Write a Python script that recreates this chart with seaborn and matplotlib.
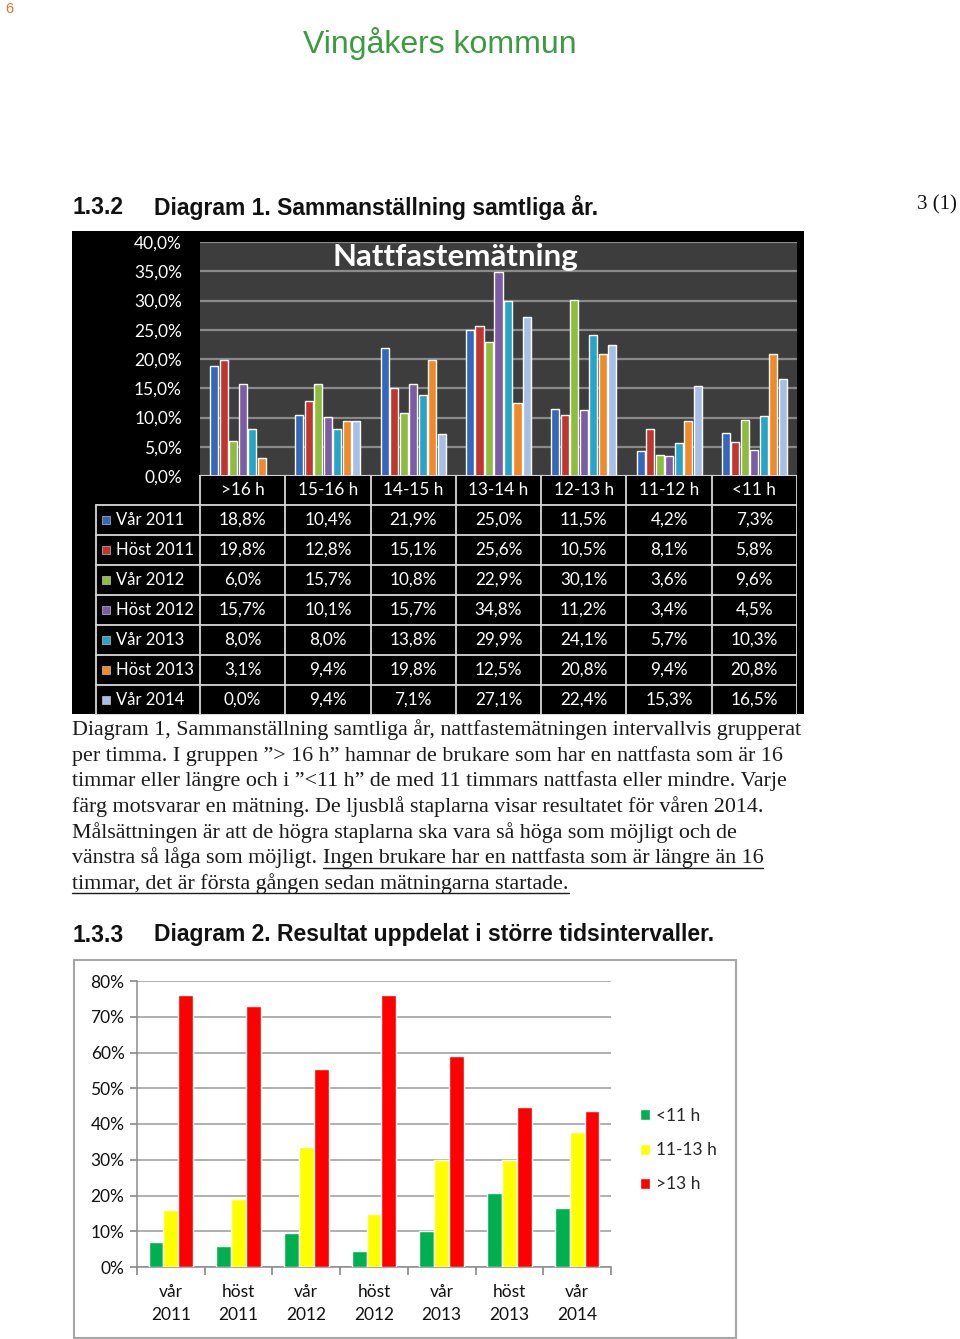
import numpy as np
import pandas as pd
import matplotlib
matplotlib.use("Agg")
import matplotlib.pyplot as plt
import seaborn as sns
from matplotlib.patches import Rectangle
from matplotlib.lines import Line2D

# ---------------- data ----------------
intervals = [">16 h", "15-16 h", "14-15 h", "13-14 h", "12-13 h", "11-12 h", "<11 h"]
series_names = ["Vår 2011", "Höst 2011", "Vår 2012", "Höst 2012", "Vår 2013", "Höst 2013", "Vår 2014"]
var_2011 = [18.8, 10.4, 21.9, 25.0, 11.5, 4.2, 7.3]
host_2011 = [19.8, 12.8, 15.1, 25.6, 10.5, 8.1, 5.8]
var_2012 = [6.0, 15.7, 10.8, 22.9, 30.1, 3.6, 9.6]
host_2012 = [15.7, 10.1, 15.7, 34.8, 11.2, 3.4, 4.5]
var_2013 = [8.0, 8.0, 13.8, 29.9, 24.1, 5.7, 10.3]
host_2013 = [3.1, 9.4, 19.8, 12.5, 20.8, 9.4, 20.8]
var_2014 = [0.0, 9.4, 7.1, 27.1, 22.4, 15.3, 16.5]
chart1_yticks = [0, 5, 10, 15, 20, 25, 30, 35, 40]
series_colors = ["#3468bd", "#c0362f", "#8dbd3f", "#7d5ca6", "#28a4c6", "#f0892a", "#a6bfe6"]

periods = ["vår\n2011", "höst\n2011", "vår\n2012", "höst\n2012", "vår\n2013", "höst\n2013", "vår\n2014"]
groups2 = ["<11 h", "11-13 h", ">13 h"]
under_11 = [7.0, 6.0, 9.6, 4.5, 10.0, 20.8, 16.5]
h11_13 = [16.0, 19.0, 33.7, 14.9, 29.8, 30.0, 37.7]
over_13 = [76.0, 73.0, 55.4, 76.0, 59.0, 44.7, 43.5]
chart2_yticks = [0, 10, 20, 30, 40, 50, 60, 70, 80]
group_colors = ["#00b050", "#ffff00", "#ff0000"]

caption_lines = [
    "Diagram 1, Sammanställning samtliga år, nattfastemätningen intervallvis grupperat",
    "per timma. I gruppen ”> 16 h” hamnar de brukare som har en nattfasta som är 16",
    "timmar eller längre och i ”<11 h” de med 11 timmars nattfasta eller mindre. Varje",
    "färg motsvarar en mätning. De ljusblå staplarna visar resultatet för våren 2014.",
    "Målsättningen är att de högra staplarna ska vara så höga som möjligt och de",
]
caption_line6_plain = "vänstra så låga som möjligt. "
caption_line6_under = "Ingen brukare har en nattfasta som är längre än 16"
caption_line7_under = "timmar, det är första gången sedan mätningarna startade."

# ---------------- figure ----------------
sns.set_theme(style="white")
plt.rcParams["font.family"] = ["Lato", "DejaVu Sans"]

W, H = 960, 1339
fig = plt.figure(figsize=(W / 100, H / 100), dpi=100)
fig.patch.set_facecolor("white")


def box(x0, y0, x1, y1):
    return [x0 / W, 1 - y1 / H, (x1 - x0) / W, (y1 - y0) / H]


def fx(x):
    return x / W


def fy(y):
    return 1 - y / H


# page header
fig.text(fx(5), fy(9), "6", color="#e0702a", fontsize=10.5, family="Liberation Sans",
         ha="left", va="center")
fig.text(fx(440), fy(43), "Vingåkers kommun", color="#3a9c3e", fontsize=23,
         family="Liberation Sans", ha="center", va="center")
fig.text(fx(72), fy(207), "1.3.2", fontsize=16.5, fontweight="bold",
         family="Liberation Sans", ha="left", va="center", color="#111111")
fig.text(fx(154), fy(207), "Diagram 1. Sammanställning samtliga år.", fontsize=16.5,
         fontweight="bold", family="Liberation Sans", ha="left", va="center", color="#111111")
fig.text(fx(957), fy(205), "3 (1)", fontsize=15, family="Liberation Serif",
         ha="right", va="center", color="#111111")

# ---------------- chart 1 ----------------
fig.add_artist(Rectangle((fx(72), fy(714)), (804 - 72) / W, (714 - 231) / H,
                         transform=fig.transFigure, facecolor="black",
                         edgecolor="none", zorder=-5))

all_series = [var_2011, host_2011, var_2012, host_2012, var_2013, host_2013, var_2014]
df1 = pd.DataFrame(
    [(iv, sn, v) for sn, vals in zip(series_names, all_series) for iv, v in zip(intervals, vals)],
    columns=["interval", "series", "value"],
)

ax1 = fig.add_axes(box(200, 242, 797, 476))
ax1.set_facecolor("#3d3d3d")
sns.barplot(data=df1, x="interval", y="value", hue="series", order=intervals,
            hue_order=series_names, palette=series_colors, saturation=1,
            width=0.78, gap=0.15, legend=False, ax=ax1, zorder=3)
ax1.set_ylim(0, 40)
ax1.set_xlim(-0.5, len(intervals) - 0.5)
ax1.set_yticks(chart1_yticks)
ax1.set_yticklabels([f"{t:.1f}".replace(".", ",") + "%" for t in chart1_yticks],
                    color="white", fontsize=12.5)
ax1.tick_params(axis="y", length=0, pad=13)
ax1.set_xticks([])
ax1.set_xlabel("")
ax1.set_ylabel("")
ax1.yaxis.grid(True, color="#8a8a8a", lw=1.6, zorder=0)
ax1.set_axisbelow(True)
for s in ax1.spines.values():
    s.set_visible(False)
ax1.text(0.427, 0.935, "Nattfastemätning", transform=ax1.transAxes, color="white",
         fontsize=22.5, fontweight="bold", ha="center", va="center")

# data table below chart 1
unit = 597 / len(intervals)
left = -0.5 - (200 - 94) / unit
axt = fig.add_axes(box(94, 475, 797, 715))
axt.set_xlim(left, len(intervals) - 0.5)
axt.set_ylim(len(series_names) - 0.5, -1.5)
axt.axis("off")
lc = "#d8d8d8"
for i in range(len(intervals) + 1):
    axt.plot([i - 0.5, i - 0.5], [-1.5, len(series_names) - 0.5], color=lc, lw=1.3)
axt.plot([left + 0.02, left + 0.02], [-0.5, len(series_names) - 0.5], color=lc, lw=1.3)
axt.plot([-0.5, len(intervals) - 0.5], [-1.5, -1.5], color=lc, lw=1.3)
for r in range(len(series_names) + 1):
    axt.plot([left + 0.02, len(intervals) - 0.5], [r - 0.5, r - 0.5], color=lc, lw=1.3)
for j, iv in enumerate(intervals):
    axt.text(j, -1, iv, color="white", fontsize=12.3, ha="center", va="center")
sq_x = -0.5 - (200 - 106) / unit
lab_x = -0.5 - (200 - 116) / unit
for r, (sn, vals, col) in enumerate(zip(series_names, all_series, series_colors)):
    axt.scatter([sq_x], [r], marker="s", s=26, color=col, edgecolors="#e0e0e0", linewidths=0.4)
    axt.text(lab_x, r, sn, color="white", fontsize=12, ha="left", va="center")
    for j, v in enumerate(vals):
        axt.text(j, r, f"{v:.1f}".replace(".", ",") + "%", color="white", fontsize=12.3,
                 ha="center", va="center")

# ---------------- caption ----------------
cap_font = dict(fontsize=15.85, family="Liberation Serif", color="#1a1a1a", ha="left", va="baseline")
base0 = 735
step = 25.7
for k, line in enumerate(caption_lines):
    fig.text(fx(72), fy(base0 + k * step), line, **cap_font)
t6a = fig.text(fx(72), fy(base0 + 5 * step), caption_line6_plain, **cap_font)
fig.canvas.draw()
rend = fig.canvas.get_renderer()
bb6a = t6a.get_window_extent(rend)
x6 = bb6a.x1
t6b = fig.text(x6 / W, fy(base0 + 5 * step), caption_line6_under, **cap_font)
t7 = fig.text(fx(72), fy(base0 + 6 * step), caption_line7_under, **cap_font)
fig.canvas.draw()
for t, yb in ((t6b, base0 + 5 * step), (t7, base0 + 6 * step)):
    bb = t.get_window_extent(rend)
    fig.add_artist(Line2D([bb.x0 / W, bb.x1 / W], [fy(yb + 4), fy(yb + 4)],
                          transform=fig.transFigure, color="#1a1a1a", lw=1.0))

fig.text(fx(72), fy(935), "1.3.3", fontsize=16.5, fontweight="bold",
         family="Liberation Sans", ha="left", va="center", color="#111111")
fig.text(fx(154), fy(935), "Diagram 2. Resultat uppdelat i större tidsintervaller.",
         fontsize=16.5, fontweight="bold", family="Liberation Sans", ha="left",
         va="center", color="#111111")

# ---------------- chart 2 ----------------
fig.add_artist(Rectangle((fx(74), fy(1338)), (736 - 74) / W, (1338 - 960) / H,
                         transform=fig.transFigure, facecolor="white",
                         edgecolor="#a6a6a6", lw=1.5, zorder=-5))

df2 = pd.DataFrame(
    [(p, g, v) for g, vals in zip(groups2, [under_11, h11_13, over_13]) for p, v in zip(periods, vals)],
    columns=["period", "group", "value"],
)
ax2 = fig.add_axes(box(137, 981, 611, 1267))
sns.barplot(data=df2, x="period", y="value", hue="group", order=periods,
            hue_order=groups2, palette=group_colors, saturation=1, width=0.66,
            ax=ax2, zorder=3)
ax2.set_ylim(0, 80)
ax2.set_xlim(-0.5, len(periods) - 0.5)
ax2.set_yticks(chart2_yticks)
ax2.set_yticklabels([f"{t}%" for t in chart2_yticks], fontsize=12.5, color="#111111")
ax2.yaxis.grid(True, color="#9a9a9a", lw=1.1, zorder=0)
ax2.set_axisbelow(True)
ax2.set_xticks(np.arange(-0.5, len(periods), 1))
ax2.set_xticklabels([])
ax2.set_xticks(np.arange(len(periods)), minor=True)
ax2.set_xticklabels(periods, minor=True, fontsize=12.5, color="#111111", linespacing=1.55)
ax2.tick_params(axis="x", which="major", length=6, color="#8c8c8c", direction="out", bottom=True)
ax2.tick_params(axis="x", which="minor", length=0, pad=12, bottom=True)
ax2.tick_params(axis="y", length=5, color="#8c8c8c", direction="out", left=True, pad=4)
ax2.set_xlabel("")
ax2.set_ylabel("")
for side in ("top", "right"):
    ax2.spines[side].set_visible(False)
for side in ("left", "bottom"):
    ax2.spines[side].set_color("#8c8c8c")
    ax2.spines[side].set_linewidth(1.1)
handles, labels = ax2.get_legend_handles_labels()
ax2.legend(handles, labels, loc="upper left", bbox_to_anchor=(fx(633), fy(1101)),
           bbox_transform=fig.transFigure, frameon=False, fontsize=12.5,
           handlelength=0.6, handleheight=0.6, handletextpad=0.35, labelspacing=1.05,
           borderaxespad=0)

fig.savefig("out.png", dpi=100)
